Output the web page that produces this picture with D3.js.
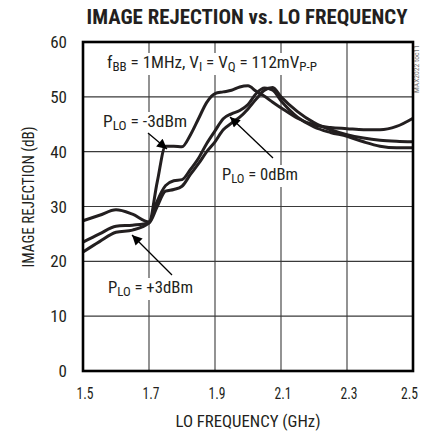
<!DOCTYPE html>
<html lang="en">
<head>
<meta charset="utf-8" />
<title>Image Rejection vs. LO Frequency</title>
<script src="https://d3js.org/d3.v7.min.js"></script>
<style>
  body { margin: 0; background: #fff; }
</style>
</head>
<body>
<script>
// plot box and styling
const WIDTH = 421, HEIGHT = 435;
const PLOT = { left: 83, right: 413, top: 42, bottom: 371 };
const FONT = '"Liberation Sans Narrow", "Roboto Condensed", "DejaVu Sans Condensed", Arial, sans-serif';
const INK = "#231f20";

// data
const freqGHz = [1.5, 1.55, 1.6, 1.65, 1.7, 1.725, 1.75, 1.775, 1.8, 1.825, 1.85, 1.875, 1.9, 1.925,
  1.95, 1.975, 2.0, 2.025, 2.05, 2.075, 2.1, 2.15, 2.2, 2.25, 2.3, 2.35, 2.4, 2.45, 2.5];
const rejMinus3 = [27.4, 28.4, 29.4, 28.6, 27.2, 34.5, 41.0, 41.0, 40.9, 43.0, 46.0, 49.0, 50.6, 50.9,
  51.2, 51.8, 52.0, 51.0, 50.1, 49.0, 48.0, 46.1, 44.9, 44.4, 44.2, 44.0, 44.0, 44.6, 46.1];
const rejPlus3 = [21.7, 23.6, 25.3, 25.7, 27.0, 31.0, 33.8, 34.7, 34.9, 36.7, 38.8, 41.5, 43.8, 46.0,
  46.9, 47.5, 48.6, 50.6, 51.6, 51.2, 49.3, 46.3, 44.5, 43.5, 42.8, 41.8, 41.0, 40.7, 40.7];
const rej0 = [23.5, 25.0, 26.4, 26.6, 27.0, 30.0, 32.8, 33.1, 33.7, 35.8, 37.8, 40.0, 41.8, 44.0,
  45.2, 46.3, 47.8, 49.6, 51.2, 51.7, 50.0, 47.3, 45.3, 44.0, 43.1, 42.5, 42.1, 41.9, 41.8];
const xTicks = [1.5, 1.7, 1.9, 2.1, 2.3, 2.5];
const yTicks = [0, 10, 20, 30, 40, 50, 60];

const svg = d3.select("body").append("svg")
  .attr("width", WIDTH)
  .attr("height", HEIGHT)
  .style("font-family", FONT);

const x = d3.scaleLinear().domain([1.5, 2.5]).range([PLOT.left, PLOT.right]);
const y = d3.scaleLinear().domain([0, 60]).range([PLOT.bottom, PLOT.top]);

// grid
const grid = svg.append("g").attr("stroke", "#3a3a3a").attr("stroke-width", 1.1);
grid.selectAll(".gx").data(xTicks.slice(1, -1)).join("line")
  .attr("x1", d => x(d)).attr("x2", d => x(d))
  .attr("y1", PLOT.top).attr("y2", PLOT.bottom);
grid.selectAll(".gy").data(yTicks.slice(1, -1)).join("line")
  .attr("x1", PLOT.left).attr("x2", PLOT.right)
  .attr("y1", d => y(d)).attr("y2", d => y(d));

// tick labels (last x label pulled in so it stays inside the page)
svg.append("g").selectAll("text").data(xTicks).join("text")
  .attr("x", (d, i) => x(d) + (i === xTicks.length - 1 ? -3.5 : 2)).attr("y", 399)
  .attr("text-anchor", "middle").attr("font-size", 17).attr("fill", INK)
  .attr("textLength", 17).attr("lengthAdjust", "spacingAndGlyphs")
  .text(d => d.toFixed(1));
svg.append("g").selectAll("text").data(yTicks).join("text")
  .attr("x", 67).attr("y", d => y(d) + 6)
  .attr("text-anchor", "end").attr("font-size", 17).attr("fill", INK)
  .text(d => d);

// titles
svg.append("text").attr("x", 247).attr("y", 24)
  .attr("text-anchor", "middle").attr("font-size", 21).attr("font-weight", "bold")
  .attr("textLength", 321).attr("lengthAdjust", "spacingAndGlyphs").attr("fill", INK)
  .text("IMAGE REJECTION vs. LO FREQUENCY");
svg.append("text").attr("x", 248).attr("y", 427)
  .attr("text-anchor", "middle").attr("font-size", 17)
  .attr("textLength", 145).attr("lengthAdjust", "spacingAndGlyphs").attr("fill", INK)
  .text("LO FREQUENCY (GHz)");
svg.append("text").attr("transform", "translate(34,197) rotate(-90)")
  .attr("text-anchor", "middle").attr("font-size", 17)
  .attr("textLength", 141).attr("lengthAdjust", "spacingAndGlyphs").attr("fill", INK)
  .text("IMAGE REJECTION (dB)");
svg.append("text").attr("transform", "translate(419,93) rotate(-90)")
  .attr("font-size", 7).attr("fill", "#777")
  .attr("textLength", 48).attr("lengthAdjust", "spacingAndGlyphs")
  .text("MAX2022 toc11");

// in-plot labels with white boxes that break the grid
function label(xp, yp, width, parts) {
  const g = svg.append("g");
  const bg = g.append("rect").attr("fill", "#fff");
  const t = g.append("text").attr("x", xp).attr("y", yp)
    .attr("font-size", 17).attr("fill", INK)
    .attr("textLength", width).attr("lengthAdjust", "spacingAndGlyphs");
  parts.forEach(p => {
    const s = t.append("tspan").text(p[0]);
    if (p[1]) s.attr("font-size", 13).attr("baseline-shift", "-3");
  });
  const b = t.node().getBBox();
  bg.attr("x", b.x - 2).attr("y", b.y + 1).attr("width", b.width + 4).attr("height", b.height);
}
label(107, 68, 210, [["f"], ["BB", 1], [" = 1MHz, V"], ["I", 1], [" = V"], ["Q", 1], [" = 112mV"], ["P-P", 1]]);
label(103, 127, 84, [["P"], ["LO", 1], [" = -3dBm"]]);
label(222, 180, 76, [["P"], ["LO", 1], [" = 0dBm"]]);
label(108, 293, 85, [["P"], ["LO", 1], [" = +3dBm"]]);

// curves
const series = [rejMinus3, rej0, rejPlus3];
const line = d3.line()
  .x((d, i) => x(freqGHz[i]))
  .y(d => y(d))
  .curve(d3.curveMonotoneX);
svg.append("g").selectAll("path").data(series).join("path")
  .attr("d", line)
  .attr("fill", "none").attr("stroke", INK).attr("stroke-width", 3)
  .attr("stroke-linejoin", "round");

// arrows
svg.append("defs").append("marker")
  .attr("id", "head").attr("viewBox", "0 0 10 10")
  .attr("refX", 10).attr("refY", 5)
  .attr("markerWidth", 12).attr("markerHeight", 10)
  .attr("markerUnits", "userSpaceOnUse").attr("orient", "auto")
  .append("path").attr("d", "M0,0L10,5L0,10Z").attr("fill", "#000");
const arrows = [[148, 133, 167, 149], [273, 158, 230, 117], [172, 275, 132, 235]];
svg.append("g").selectAll("line").data(arrows).join("line")
  .attr("x1", d => d[0]).attr("y1", d => d[1])
  .attr("x2", d => d[2]).attr("y2", d => d[3])
  .attr("stroke", "#000").attr("stroke-width", 1.3)
  .attr("marker-end", "url(#head)");

// frame
svg.append("rect")
  .attr("x", PLOT.left).attr("y", PLOT.top)
  .attr("width", PLOT.right - PLOT.left).attr("height", PLOT.bottom - PLOT.top)
  .attr("fill", "none").attr("stroke", "#000").attr("stroke-width", 2.6);
</script>
</body>
</html>
